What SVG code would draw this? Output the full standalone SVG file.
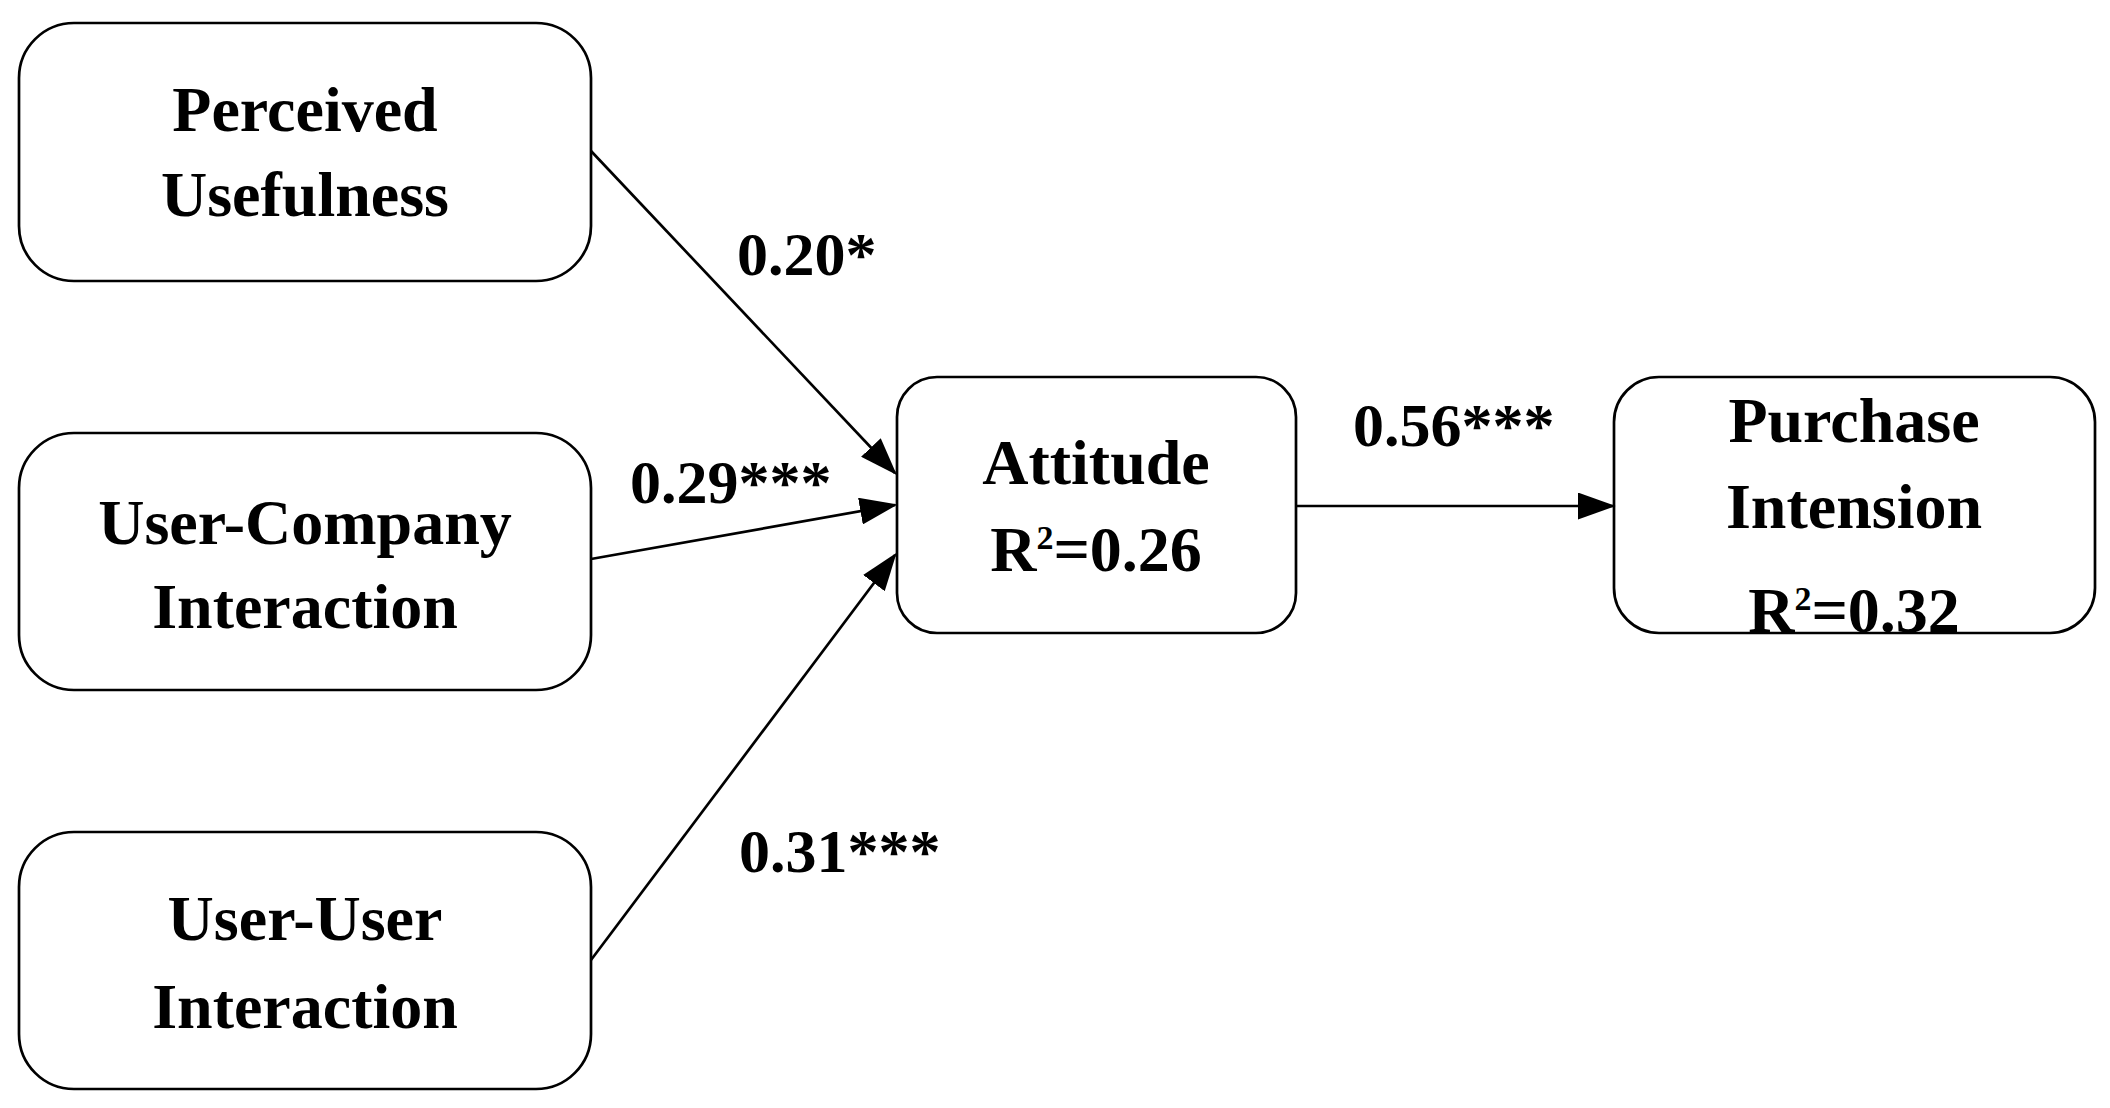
<svg xmlns="http://www.w3.org/2000/svg" width="2110" height="1108" viewBox="0 0 2110 1108">
<style>
.box{fill:#fff;stroke:#000;stroke-width:2.7}
.t{font-family:"Liberation Serif",serif;font-weight:bold;font-size:64px;text-anchor:middle;fill:#000}
.l{font-family:"Liberation Serif",serif;font-weight:bold;font-size:62px;fill:#000}
.c{stroke:#000;stroke-width:2.7;fill:none;marker-end:url(#ah)}
</style>
<defs><marker id="ah" markerWidth="14" markerHeight="10" refX="13" refY="5" orient="auto" markerUnits="strokeWidth"><path d="M0,0 L14,5 L0,10 Z" fill="#000"/></marker></defs>
<rect width="2110" height="1108" fill="#fff"/>
<g id="pu"><rect class="box" x="19" y="23" width="572" height="258" rx="55"/><text class="t" x="305" y="131">Perceived</text><text class="t" x="305" y="216">Usefulness</text></g>
<g id="uc"><rect class="box" x="19" y="433" width="572" height="257" rx="55"/><text class="t" x="305" y="544">User-Company</text><text class="t" x="305" y="628">Interaction</text></g>
<g id="uu"><rect class="box" x="19" y="832" width="572" height="257" rx="55"/><text class="t" x="305" y="940">User-User</text><text class="t" x="305" y="1028">Interaction</text></g>
<g id="att"><rect class="box" x="897" y="377" width="399" height="256" rx="40"/><text class="t" x="1096" y="484">Attitude</text><text class="t" x="1096" y="571" font-size="56">R<tspan font-size="34" dy="-22">2</tspan><tspan dy="22">=0.26</tspan></text></g>
<g id="pi"><rect class="box" x="1614" y="377" width="481" height="256" rx="45"/><text class="t" x="1854" y="442">Purchase</text><text class="t" x="1854" y="528">Intension</text><text class="t" x="1854" y="632" font-size="56">R<tspan font-size="34" dy="-22">2</tspan><tspan dy="22">=0.32</tspan></text></g>
<g id="connectors">
<line class="c" x1="591" y1="151" x2="895" y2="473"/>
<line class="c" x1="591" y1="559" x2="895" y2="505"/>
<line class="c" x1="591" y1="960" x2="895" y2="555"/>
<line class="c" x1="1296" y1="506" x2="1613" y2="506"/>
</g>
<g id="labels">
<text class="l" x="737" y="275">0.20*</text>
<text class="l" x="630" y="503">0.29***</text>
<text class="l" x="1353" y="446">0.56***</text>
<text class="l" x="739" y="872">0.31***</text>
</g>
</svg>
